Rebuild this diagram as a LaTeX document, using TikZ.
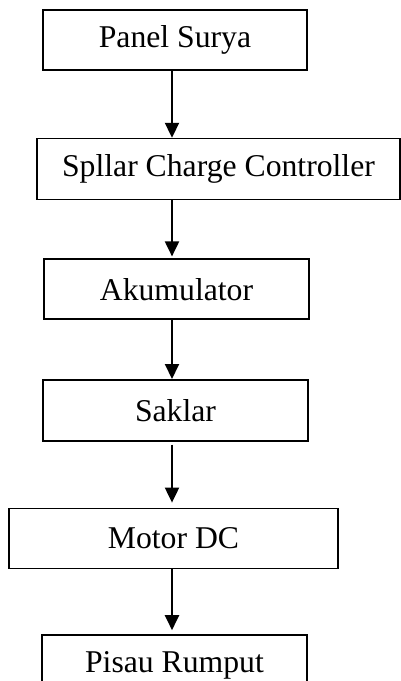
\documentclass[tikz,border=0pt]{standalone}
\usepackage{fontspec}
\setmainfont{Liberation Serif}
\usetikzlibrary{positioning,arrows.meta}

\begin{document}
\begin{tikzpicture}[
    x=1pt, y=1pt,
    block/.style={rectangle, draw=black, line width=1.6pt, minimum height=60pt, inner sep=0pt},
    flow/.style={-{Triangle[width=14pt,length=15pt]}, line width=2pt},
    every node/.style={font=\fontsize{31.7}{38}\selectfont}
]
\clip (0,0) rectangle (401,-681);

% Blocks
\node[block, minimum width=264pt] (panel) at (175,-40) {Panel Surya};
\node[block, minimum width=363pt, minimum height=61pt] (scc) [below=67pt of panel, xshift=43.5pt] {Spllar Charge Controller};
\node[block, minimum width=265pt] (aki) [below=58pt of scc, xshift=-42pt] {Akumulator};
\node[block, minimum width=265pt, minimum height=61pt] (saklar) [below=59pt of aki, xshift=-1pt] {Saklar};
\node[block, minimum width=329pt] (motor) [below=66pt of saklar, xshift=-2pt] {Motor DC};
\node[block, minimum width=265pt] (pisau) [below=65pt of motor, xshift=1pt] {Pisau Rumput};

% Arrows
\coordinate (axis) at ([xshift=-3pt]panel.south);
\draw[flow] (panel.south -| axis) -- (scc.north -| axis);
\draw[flow] (scc.south -| axis) -- ([yshift=2pt]aki.north -| axis);
\draw[flow] (aki.south -| axis) -- (saklar.north -| axis);
\draw[flow] ([yshift=-3pt]saklar.south -| axis) -- ([yshift=5pt]motor.north -| axis);
\draw[flow] (motor.south -| axis) -- ([yshift=4pt]pisau.north -| axis);

\end{tikzpicture}
\end{document}
